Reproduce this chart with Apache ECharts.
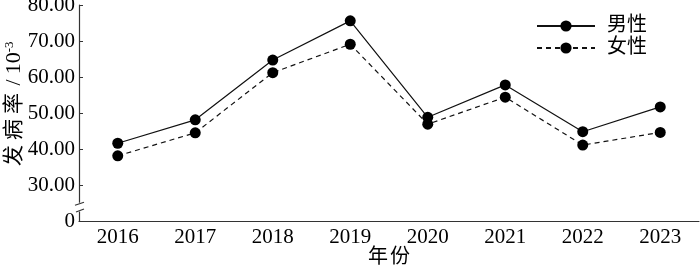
<!DOCTYPE html>
<html>
<head>
<meta charset="utf-8">
<script src="https://cdn.jsdelivr.net/npm/echarts@6/dist/echarts.min.js"></script>
<style>html,body{margin:0;padding:0;background:#fff}#c{width:700px;height:269px}</style>
</head>
<body>
<div id="c"></div>
<script>
var categories = ['2016','2017','2018','2019','2020','2021','2022','2023'];
var maleValues = [41.6, 48.1, 64.7, 75.6, 48.8, 57.8, 44.8, 51.7];
var femaleValues = [38.1, 44.5, 61.2, 69.1, 46.9, 54.4, 41.1, 44.6];
var seriesNames = ['男性', '女性'];
var yTicks = [20, 30, 40, 50, 60, 70, 80];
var yTickLabels = ['0', '30.00', '40.00', '50.00', '60.00', '70.00', '80.00'];

var FONT = '"Liberation Serif", "Times New Roman", "Noto Sans CJK SC", serif';
var chart = echarts.init(document.getElementById('c'), null, {renderer: 'canvas'});
var axisColor = '#333';
var option = {
  animation: false,
  backgroundColor: '#fff',
  grid: {left: 79, right: 1, top: 5, bottom: 48, containLabel: false, outerBoundsMode: 'none'},
  legend: {
    orient: 'vertical', left: 531, top: 11,
    itemWidth: 58, itemHeight: 14, itemGap: 2,
    data: seriesNames,
    textStyle: {fontFamily: FONT, fontSize: 20, color: '#000', padding: [0, 0, 0, 7]}
  },
  xAxis: {
    type: 'category', data: categories, boundaryGap: true,
    name: '{c|年}{c|份}', nameLocation: 'middle', nameGap: 27, nameMoveOverlap: false,
    nameTextStyle: {fontFamily: FONT, fontSize: 21, color: '#000',
      rich: {c: {fontFamily: FONT, fontSize: 20, color: '#000', padding: [0, 1, 0, 1]}}},
    axisLine: {lineStyle: {color: axisColor, width: 1.2}},
    axisTick: {inside: true, length: 5, alignWithLabel: false, lineStyle: {color: axisColor}},
    axisLabel: {fontFamily: FONT, fontSize: 21, color: '#000', margin: 6}
  },
  yAxis: {
    type: 'value', min: 20, max: 80, interval: 10,
    name: '{a|发}{a|病}{a|率}{sl|/}{b|10}{s|-3}', nameLocation: 'middle', nameGap: 54, nameMoveOverlap: false,
    nameTextStyle: {
      fontFamily: FONT, color: '#000', padding: [0, 0, 0, 16],
      rich: {
        a: {fontFamily: FONT, fontSize: 21, color: '#000', lineHeight: 22, padding: [0, 2.5, 0, 2.5]},
        sl: {fontFamily: FONT, fontSize: 22, color: '#000', lineHeight: 22, padding: [0, 5, 0, 5]},
        b: {fontFamily: FONT, fontSize: 22, color: '#000', lineHeight: 22},
        s: {fontFamily: FONT, fontSize: 13, color: '#000', verticalAlign: 'top', lineHeight: 22}
      }
    },
    splitLine: {show: false},
    axisLine: {show: true, lineStyle: {color: axisColor, width: 1.2}},
    axisTick: {show: true, inside: true, length: 4, lineStyle: {color: axisColor}},
    axisLabel: {
      fontFamily: FONT, fontSize: 21, color: '#000', margin: 4,
      formatter: function (v) { var i = yTicks.indexOf(v); return i >= 0 ? yTickLabels[i] : ''; }
    }
  },
  series: [
    {
      name: seriesNames[0], type: 'line', data: maleValues,
      symbol: 'circle', symbolSize: 11,
      itemStyle: {color: '#000'},
      lineStyle: {color: '#111', width: 1.2, type: 'solid'}
    },
    {
      name: seriesNames[1], type: 'line', data: femaleValues,
      symbol: 'circle', symbolSize: 11,
      itemStyle: {color: '#000'},
      lineStyle: {color: '#111', width: 1.2, type: [5, 4]}
    }
  ]
};
chart.setOption(option);

// axis break decoration on the y axis, placed through the axis scale
var gx = 79;
var yTop = chart.convertToPixel({yAxisIndex: 0}, 24.8);
var yBot = chart.convertToPixel({yAxisIndex: 0}, 22.9);
chart.setOption({
  graphic: [
    {type: 'rect', shape: {x: gx - 2, y: yTop - 1, width: 5, height: yBot - yTop + 2}, style: {fill: '#fff'}, z: 100},
    {type: 'line', shape: {x1: gx - 4, y1: yTop + 1.5, x2: gx + 5, y2: yTop - 1.5}, style: {stroke: axisColor, lineWidth: 1.2}, z: 101},
    {type: 'line', shape: {x1: gx - 3, y1: yBot + 1.5, x2: gx + 5, y2: yBot - 1.5}, style: {stroke: axisColor, lineWidth: 1.2}, z: 101}
  ]
});
</script>
</body>
</html>
